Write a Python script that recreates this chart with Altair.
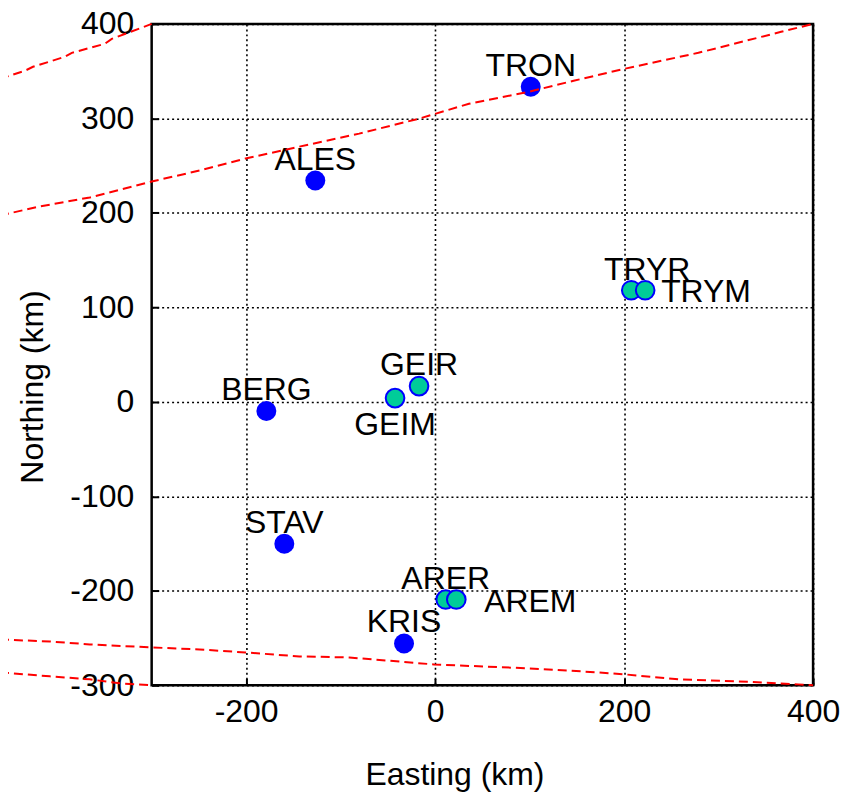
import altair as alt
import pandas as pd

# Stations (km)
names = ["TRON", "ALES", "BERG", "STAV", "KRIS", "GEIR", "GEIM", "TRYR", "TRYM", "ARER", "AREM"]
east = [101.2, -126.8, -178.6, -159.6, -32.9, -17.0, -42.4, 207.6, 222.3, 11.2, 22.4]
north = [333.5, 234.2, -9.7, -150.1, -255.7, 16.7, 4.0, 118.1, 118.1, -209.2, -209.2]
kind = ["main", "main", "main", "main", "main", "array", "array", "array", "array", "array", "array"]
label_pos = ["above", "above", "above", "above", "above", "above", "below", "above_right", "right", "above", "far_right"]

# Red dashed boundary curves (km)
line_a_x = [-460.5, -434.1, -425.6, -391.9, -384.5, -349.6, -342.2, -300.0]
line_a_y = [341.9, 350.4, 354.6, 365.2, 369.4, 378.9, 384.2, 400.0]
line_b_x = [-460.5, -418.3, -365.5, -300.0, -249.3, -200.7, -143.7, -80.4, -17.0, 35.8, 99.1, 146.6, 200.5, 278.6, 366.2, 400.0]
line_b_y = [197.3, 206.8, 216.3, 233.2, 244.8, 257.5, 270.1, 283.9, 299.7, 315.5, 328.2, 339.8, 352.5, 369.4, 391.6, 400.0]
line_c_x = [-460.5, -407.7, -365.5, -300.0, -249.3, -200.7, -143.7, -90.9, -1.2, 99.1, 173.0, 200.5, 257.5, 320.8, 384.2, 400.0]
line_c_y = [-251.5, -253.6, -256.7, -259.9, -262.0, -265.2, -269.4, -270.5, -277.9, -282.1, -286.3, -288.4, -293.7, -295.8, -299.0, -300.0]
line_d_x = [-460.5, -407.7, -365.5, -333.8, -300.0]
line_d_y = [-286.3, -290.5, -293.7, -297.9, -300.0]

x_ticks = [-200, 0, 200, 400]
y_ticks = [-300, -200, -100, 0, 100, 200, 300, 400]

stations = pd.DataFrame({"name": names, "x": east, "y": north, "kind": kind, "pos": label_pos})

rows = []
for lid, (lx, ly) in enumerate([(line_a_x, line_a_y), (line_b_x, line_b_y),
                                (line_c_x, line_c_y), (line_d_x, line_d_y)]):
    for i, (a, b) in enumerate(zip(lx, ly)):
        rows.append({"line": f"L{lid}", "i": i, "x": a, "y": b})
lines = pd.DataFrame(rows)

FONT = "Liberation Sans"
FS = 32

xscale = alt.Scale(domain=[-300, 400], nice=False, zero=False)
yscale = alt.Scale(domain=[-300, 400], nice=False, zero=False)

common_axis = dict(
    grid=True, gridDash=[2, 3], gridColor="black", gridWidth=1.6, gridOpacity=1,
    domain=False, ticks=True, tickSize=7, tickColor="black", tickWidth=2, offset=-7,
    labelFont=FONT, labelFontSize=FS, labelColor="black", labelFlush=False, labelOverlap=False,
    labelExpr="'' + datum.value",
    titleFont=FONT, titleFontSize=FS, titleFontWeight="normal", titleColor="black",
    titleBaseline="alphabetic",
)

xenc = alt.X("x:Q", scale=xscale, axis=alt.Axis(
    values=x_ticks, title="Easting (km)", labelPadding=11,
    titleX=303.5, titleY=106, titleAlign="center", **common_axis))
yenc = alt.Y("y:Q", scale=yscale, axis=alt.Axis(
    values=y_ticks, title="Northing (km)", labelPadding=18,
    titleX=-116, titleY=363.5, titleAngle=270, titleAlign="center", **common_axis))

base = alt.Chart(stations).encode(x=xenc, y=yenc)

main_pts = base.transform_filter("datum.kind == 'main'").mark_circle(
    size=400, color="#0000ff", opacity=1)
arr_pts = base.transform_filter("datum.kind == 'array'").mark_point(
    filled=True, shape="circle", size=350, fill="#00cc99", stroke="#0000ff",
    strokeWidth=2, opacity=1)

def labels(pos, align, dx, dy):
    return base.transform_filter(f"datum.pos == '{pos}'").mark_text(
        font=FONT, fontSize=FS, color="black", align=align, baseline="alphabetic",
        dx=dx, dy=dy).encode(text="name:N")

lab_layers = [
    labels("above", "center", 0, -11),
    labels("above_right", "center", 16, -10),
    labels("below", "center", 0, 37),
    labels("right", "left", 16, 12),
    labels("far_right", "left", 28, 13),
]

curves = alt.Chart(lines).mark_line(
    color="#ff0000", strokeDash=[9, 5], strokeWidth=2, clip=False).encode(
    x=alt.X("x:Q", scale=xscale), y=alt.Y("y:Q", scale=yscale),
    detail="line:N", order="i:Q")

chart = alt.layer(main_pts, arr_pts, *lab_layers, curves).properties(
    width=663, height=663,
    autosize=alt.AutoSizeParams(type="none"),
    padding={"left": 144, "top": 15, "right": 30, "bottom": 108},
    background="white",
).configure_view(stroke="black", strokeWidth=2.5)

chart.save("out.html", embed_options={"renderer": "svg", "actions": False})
